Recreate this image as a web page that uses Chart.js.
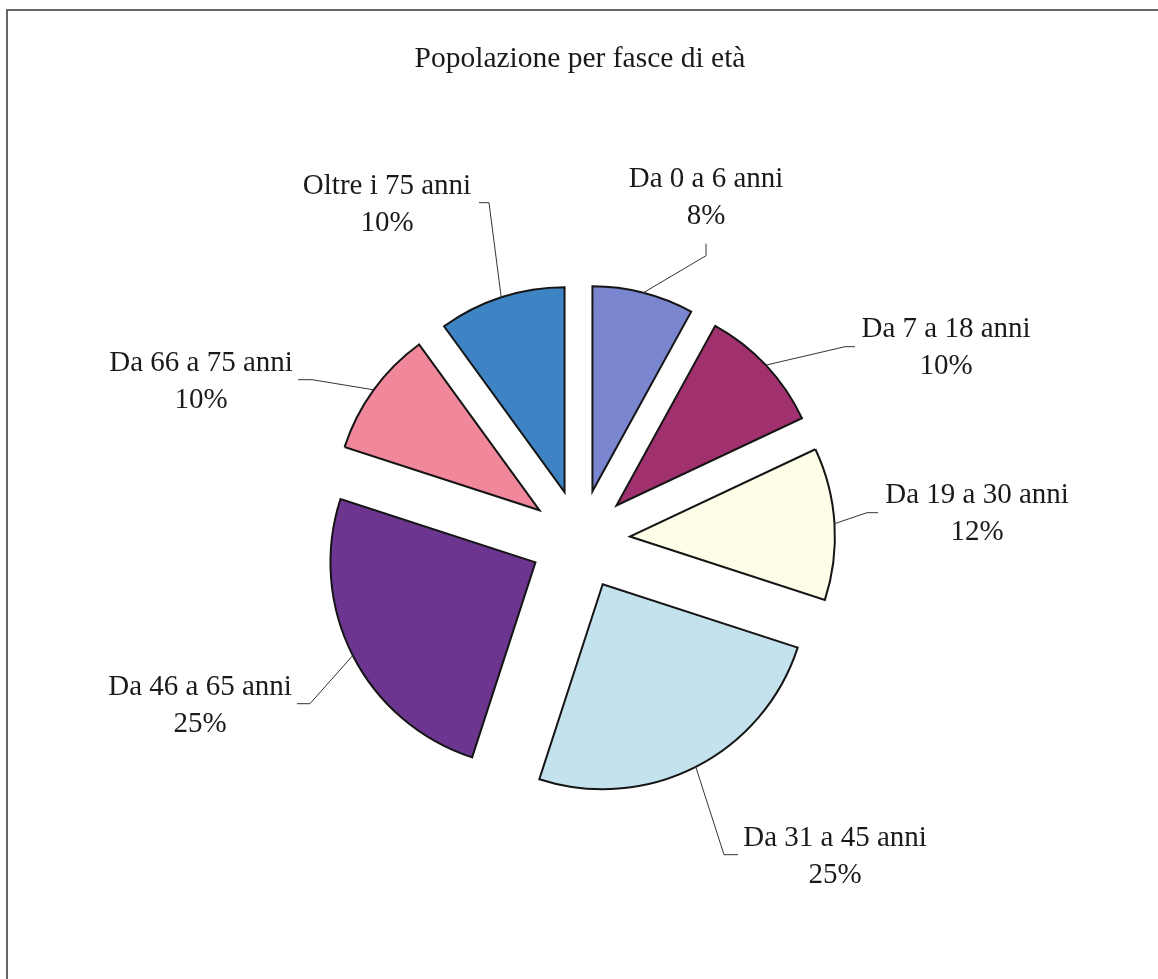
<!DOCTYPE html>
<html>
<head>
<meta charset="utf-8">
<script src="https://cdn.jsdelivr.net/npm/chart.js@4.4.1/dist/chart.umd.min.js"></script>
<style>
  body { margin: 0; background: #fff; }
  #frame {
    position: absolute; left: 6px; top: 9px; width: 1150px; height: 980px;
    border-left: 2px solid #666; border-top: 2px solid #666; border-right: 2px solid #666;
  }
  #data-chart { position: absolute; left: 0; top: 0; }
</style>
</head>
<body>
<div id="frame"></div>
<canvas id="data-chart" width="1158" height="979"></canvas>
<script>
const categories = ['Da 0 a 6 anni', 'Da 7 a 18 anni', 'Da 19 a 30 anni', 'Da 31 a 45 anni',
                    'Da 46 a 65 anni', 'Da 66 a 75 anni', 'Oltre i 75 anni'];
const values = [8, 10, 12, 25, 25, 10, 10];
const colors = ['#7b86d0', '#a0306e', '#fefde8', '#c4e2ee', '#6b3590', '#f0879a', '#3e84c4'];

// label layout, relative to pie centre: [x centre, first baseline]
const labelPos = [[126, -353], [366, -203], [397, -37], [255, 306], [-380, 155], [-379, -169], [-193, -346]];
// leader line: elbow and end points, relative to pie centre
const leaderElbow = [[126, -284], [265, -193], [287, -27], [144, 315], [-270, 164], [-268, -160], [-91, -337]];
const leaderEnd = [[126, -296], [275, -193], [298, -27], [158, 315], [-283, 164], [-282, -160], [-101, -337]];

const EXPLODE = 50; // px each slice is pulled out
const FONT = '"Liberation Serif", "Times New Roman", serif';

// draw the arcs ourselves, each one pushed out along its middle angle
const explode = {
    id: 'explode',
    beforeDatasetDraw(chart, args) {
        const ctx = chart.ctx;
        args.meta.data.forEach(arc => {
            const mid = (arc.startAngle + arc.endAngle) / 2;
            ctx.save();
            ctx.translate(Math.cos(mid) * EXPLODE, Math.sin(mid) * EXPLODE);
            arc.draw(ctx, chart.chartArea);
            ctx.restore();
        });
        return false;
    }
};

const outLabels = {
    id: 'outLabels',
    afterDatasetsDraw(chart) {
        const ctx = chart.ctx;
        const meta = chart.getDatasetMeta(0);
        const total = values.reduce((a, b) => a + b, 0);
        ctx.save();
        meta.data.forEach((arc, i) => {
            const {x, y, startAngle, endAngle, outerRadius} = arc;
            const mid = (startAngle + endAngle) / 2;
            const ax = x + Math.cos(mid) * (EXPLODE + outerRadius);
            const ay = y + Math.sin(mid) * (EXPLODE + outerRadius);
            ctx.strokeStyle = '#333';
            ctx.lineWidth = 1;
            ctx.beginPath();
            ctx.moveTo(ax, ay);
            ctx.lineTo(x + leaderElbow[i][0], y + leaderElbow[i][1]);
            ctx.lineTo(x + leaderEnd[i][0], y + leaderEnd[i][1]);
            ctx.stroke();

            ctx.fillStyle = '#1a1a1a';
            ctx.font = '29px ' + FONT;
            ctx.textAlign = 'center';
            ctx.textBaseline = 'alphabetic';
            const lx = x + labelPos[i][0], ly = y + labelPos[i][1];
            ctx.fillText(categories[i], lx, ly);
            ctx.fillText(Math.round(values[i] / total * 100) + '%', lx, ly + 37);
        });
        ctx.restore();
    }
};

const ctx = document.getElementById('data-chart').getContext('2d');
new Chart(ctx, {
    type: 'pie',
    data: {
        labels: categories,
        datasets: [{
            data: values,
            backgroundColor: colors,
            borderColor: '#151515',
            borderWidth: 2,
            borderJoinStyle: 'miter'
        }]
    },
    options: {
        responsive: false,
        animation: false,
        devicePixelRatio: 1,
        radius: 205,
        layout: { padding: { left: 2, right: 0, top: 0, bottom: 0 } },
        plugins: {
            legend: { display: false },
            tooltip: { enabled: false },
            title: {
                display: true,
                text: 'Popolazione per fasce di età',
                color: '#1a1a1a',
                font: { family: FONT, size: 29.5, weight: 'normal', lineHeight: 1.2 },
                padding: { top: 42, bottom: 23 }
            }
        }
    },
    plugins: [explode, outLabels]
});
</script>
</body>
</html>
